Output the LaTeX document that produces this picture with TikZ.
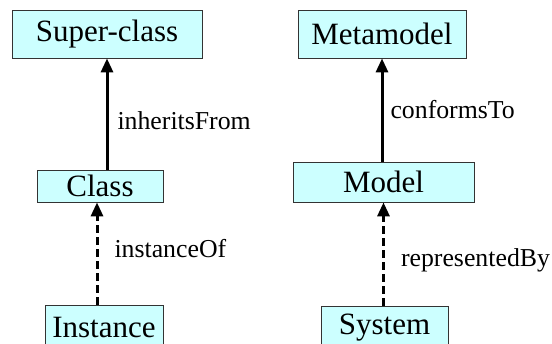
\documentclass[tikz,border=0pt]{standalone}
\usepackage{fontspec}
\setmainfont{Liberation Serif}
\usepackage{tikz}
\usetikzlibrary{arrows.meta,calc}
\definecolor{boxcyan}{HTML}{CCFFFF}
\tikzset{
	classbox/.style={draw=black!80, line width=0.8pt, fill=boxcyan, inner sep=0pt, font=\fontsize{31}{34}\selectfont},
	lbl/.style={font=\fontsize{25.8}{28}\selectfont, inner sep=0pt},
	link/.style={line width=3pt, -{Triangle[length=14pt,width=12pt]}},
	dashlink/.style={link, dash pattern=on 8pt off 4pt}
}

\begin{document}
\begin{tikzpicture}[x=1pt,y=-1pt]

\clip (0,0) rectangle (552,343);
\fill[white] (0,0) rectangle (552,343);

\node[classbox, minimum width=190pt, minimum height=48pt] (super) at (107,34) {Super-class};
\node[classbox, minimum width=126pt, minimum height=32pt] (class) at (100,186) {Class};
\node[classbox, minimum width=118pt, minimum height=44pt] (instance) at (104,327) {Instance};
\node[classbox, minimum width=168pt, minimum height=48pt] (meta) at (382,34) {Metamodel};
\node[classbox, minimum width=181pt, minimum height=40pt] (model) at (383.5,182) {Model};
\node[classbox, minimum width=127pt, minimum height=44pt] (system) at (384.5,328) {System};

\draw[link] (class.north -| super.south)--(super.south) node [lbl, right, pos=0.44, xshift=9pt] {inheritsFrom};
\draw[dashlink] ([xshift=-7pt]instance.north)--([xshift=-3pt]class.south) node [lbl, right, pos=0.55, xshift=16pt] {instanceOf};
\draw[link] (model.north -| meta.south)--(meta.south) node [lbl, right, pos=0.5, xshift=7pt] {conformsTo};
\draw[dashlink] (system.north -| model.south)--(model.south) node [lbl, right, pos=0.44, xshift=16pt] {representedBy};

\end{tikzpicture}
\end{document}
